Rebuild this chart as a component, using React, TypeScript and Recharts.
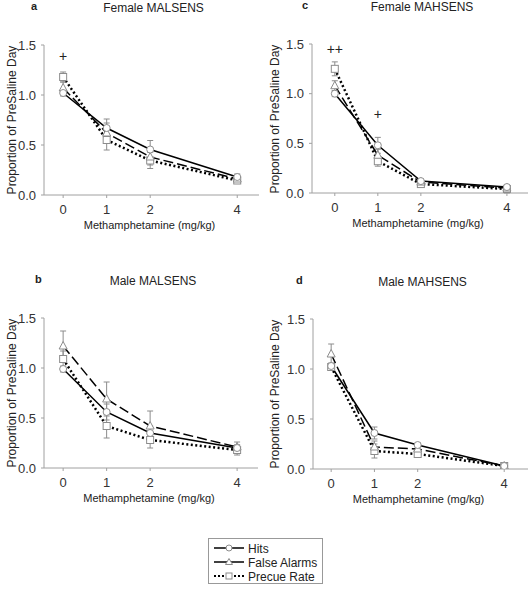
import React from 'react';
import { LineChart, Line, XAxis, YAxis, ErrorBar, ReferenceDot } from 'recharts';

const doses = [0, 1, 2, 4];
const yTicks = [0, 0.5, 1.0, 1.5];

// Panel a: Female MALSENS
const aHits = [1.02, 0.67, 0.455, 0.18];
const aHitsErr = [0.03, 0.09, 0.09, 0.03];
const aFA = [1.07, 0.62, 0.38, 0.16];
const aFAErr = [0.06, 0.1, 0.08, 0.03];
const aPR = [1.18, 0.55, 0.345, 0.145];
const aPRErr = [0.05, 0.1, 0.08, 0.03];
const aSig = [{ x: 0, y: 1.39, text: '+' }];

// Panel c: Female MAHSENS
const cHits = [1.0, 0.48, 0.12, 0.06];
const cHitsErr = [0.03, 0.08, 0.02, 0.02];
const cFA = [1.08, 0.38, 0.11, 0.05];
const cFAErr = [0.05, 0.06, 0.02, 0.02];
const cPR = [1.25, 0.32, 0.09, 0.04];
const cPRErr = [0.07, 0.05, 0.02, 0.04];
const cSig = [{ x: 0, y: 1.45, text: '++' }, { x: 1, y: 0.8, text: '+' }];

// Panel b: Male MALSENS
const bHits = [0.99, 0.56, 0.35, 0.2];
const bHitsErr = [0.03, 0.08, 0.07, 0.03];
const bFA = [1.22, 0.69, 0.42, 0.21];
const bFAErr = [0.15, 0.17, 0.15, 0.05];
const bPR = [1.09, 0.42, 0.28, 0.18];
const bPRErr = [0.08, 0.12, 0.08, 0.05];
const bSig: { x: number; y: number; text: string }[] = [];

// Panel d: Male MAHSENS
const dHits = [1.03, 0.36, 0.24, 0.03];
const dHitsErr = [0.03, 0.06, 0.02, 0.01];
const dFA = [1.15, 0.22, 0.2, 0.03];
const dFAErr = [0.1, 0.06, 0.03, 0.01];
const dPR = [1.02, 0.18, 0.15, 0.03];
const dPRErr = [0.03, 0.07, 0.03, 0.01];
const dSig: { x: number; y: number; text: string }[] = [];

const build = (h: number[], he: number[], f: number[], fe: number[], p: number[], pe: number[]) =>
  doses.map((x, i) => ({ x, hits: h[i], hitsErr: he[i], fa: f[i], faErr: fe[i], pr: p[i], prErr: pe[i] }));

const FONT = '"Liberation Sans", Arial, sans-serif';
const MARK = '#8c8c8c';
const AXIS = '#a0a0a0';

const CircleDot = (props: any) => {
  const { cx, cy, index } = props;
  if (cx == null || cy == null) return <g key={`c${index}`} />;
  return <circle key={`c${index}`} cx={cx} cy={cy} r={3.5} fill="#fff" stroke={MARK} strokeWidth={1} />;
};
const TriDot = (props: any) => {
  const { cx, cy, index } = props;
  if (cx == null || cy == null) return <g key={`t${index}`} />;
  return (
    <path key={`t${index}`} d={`M${cx},${cy - 4.5}L${cx - 4},${cy + 3}L${cx + 4},${cy + 3}Z`} fill="#fff" stroke={MARK} strokeWidth={1} />
  );
};
const SqDot = (props: any) => {
  const { cx, cy, index } = props;
  if (cx == null || cy == null) return <g key={`s${index}`} />;
  return <rect key={`s${index}`} x={cx - 3.5} y={cy - 3.5} width={7} height={7} fill="#fff" stroke={MARK} strokeWidth={1} />;
};

type Panel = {
  letter: string;
  title: string;
  data: ReturnType<typeof build>;
  sig: { x: number; y: number; text: string }[];
  L: number; T: number; B: number; R: number;
  xMin: number; xMax: number;
  letterX: number; ylabX: number;
};

const panels: Panel[] = [
  { letter: 'a', title: 'Female MALSENS', data: build(aHits, aHitsErr, aFA, aFAErr, aPR, aPRErr), sig: aSig, L: 44, T: 45, B: 195, R: 259, xMin: -0.44, xMax: 4.5, letterX: 31, ylabX: 12 },
  { letter: 'c', title: 'Female MAHSENS', data: build(cHits, cHitsErr, cFA, cFAErr, cPR, cPRErr), sig: cSig, L: 312, T: 44, B: 193, R: 528, xMin: -0.53, xMax: 4.49, letterX: 302, ylabX: 275 },
  { letter: 'b', title: 'Male MALSENS', data: build(bHits, bHitsErr, bFA, bFAErr, bPR, bPRErr), sig: bSig, L: 44, T: 318, B: 468, R: 258, xMin: -0.44, xMax: 4.48, letterX: 35, ylabX: 12 },
  { letter: 'd', title: 'Male MAHSENS', data: build(dHits, dHitsErr, dFA, dFAErr, dPR, dPRErr), sig: dSig, L: 313, T: 319, B: 469, R: 528, xMin: -0.42, xMax: 4.55, letterX: 296, ylabX: 275 },
];

const YW = 40;
const XH = 24;

const SigLabel = (text: string) => (props: any) => {
  const vb = props.viewBox || {};
  const x = (vb.x ?? 0) + (vb.width ?? 0) / 2;
  const y = (vb.y ?? 0) + (vb.height ?? 0) / 2;
  return (
    <text x={x} y={y} textAnchor="middle" dominantBaseline="central" fill="#222" fontSize={14} fontFamily={FONT}>
      {text}
    </text>
  );
};

const PanelChart = ({ p }: { p: Panel }) => {
  const cx = p.L - YW;
  const cy = p.T - 10;
  const cw = p.R - cx + 1;
  const ch = p.B - cy + XH + 2;
  const midX = (p.L + p.R) / 2;
  const midY = (p.T + p.B) / 2;
  return (
    <>
      <div style={{ position: 'absolute', left: cx, top: cy, width: cw, height: ch }}>
        <LineChart
          width={cw}
          height={ch}
          data={p.data}
          margin={{ top: 10, right: 1, left: 0, bottom: 2 }}
        >
          <XAxis
            dataKey="x"
            type="number"
            domain={[p.xMin, p.xMax]}
            ticks={doses}
            allowDataOverflow
            height={XH}
            axisLine={{ stroke: AXIS }}
            tickLine={{ stroke: AXIS }}
            tickSize={3}
            tickMargin={7}
            tick={{ fill: '#333', fontSize: 13, fontFamily: FONT }}
          />
          <YAxis
            type="number"
            domain={[0, 1.5]}
            ticks={yTicks}
            width={YW}
            allowDataOverflow
            axisLine={{ stroke: AXIS }}
            tickLine={{ stroke: AXIS }}
            tickSize={3}
            tickMargin={5}
            tickFormatter={(v: number) => v.toFixed(1)}
            tick={{ fill: '#333', fontSize: 13, fontFamily: FONT }}
          />
          <Line dataKey="pr" stroke="#000" strokeWidth={2.5} strokeDasharray="2 2.5" dot={SqDot} isAnimationActive={false}>
            <ErrorBar dataKey="prErr" width={3} stroke={MARK} strokeWidth={1} direction="y" />
          </Line>
          <Line dataKey="fa" stroke="#000" strokeWidth={1.5} strokeDasharray="10 4" dot={TriDot} isAnimationActive={false}>
            <ErrorBar dataKey="faErr" width={3} stroke={MARK} strokeWidth={1} direction="y" />
          </Line>
          <Line dataKey="hits" stroke="#000" strokeWidth={1.5} dot={CircleDot} isAnimationActive={false}>
            <ErrorBar dataKey="hitsErr" width={3} stroke={MARK} strokeWidth={1} direction="y" />
          </Line>
          {p.sig.map((s, i) => (
            <ReferenceDot
              key={i}
              x={s.x}
              y={s.y}
              r={1}
              fill="none"
              stroke="none"
              label={SigLabel(s.text)}
            />
          ))}
        </LineChart>
      </div>
      <div style={{ position: 'absolute', left: p.letterX, top: p.T - 45, fontFamily: FONT, fontSize: 11, fontWeight: 'bold', color: '#222' }}>
        {p.letter}
      </div>
      <div style={{ position: 'absolute', left: midX + 2, top: p.T - 44, transform: 'translateX(-50%)', whiteSpace: 'nowrap', fontFamily: FONT, fontSize: 12, color: '#222' }}>
        {p.title}
      </div>
      <div style={{ position: 'absolute', left: midX - 2, top: p.B + 24, transform: 'translateX(-50%)', whiteSpace: 'nowrap', fontFamily: FONT, fontSize: 11, color: '#222' }}>
        Methamphetamine (mg/kg)
      </div>
      <div style={{ position: 'absolute', left: p.ylabX, top: midY, transform: 'translate(-50%, -50%) rotate(-90deg)', whiteSpace: 'nowrap', fontFamily: FONT, fontSize: 12, color: '#222' }}>
        Proportion of PreSaline Day
      </div>
    </>
  );
};

const legendItems = [
  { label: 'Hits', dash: undefined as string | undefined, w: 1.5, shape: 'circle' },
  { label: 'False Alarms', dash: undefined as string | undefined, w: 1.5, shape: 'tri' },
  { label: 'Precue Rate', dash: '2 2' as string | undefined, w: 2, shape: 'sq' },
];

const Legend = () => (
  <div style={{ position: 'absolute', left: 208, top: 538, width: 113, height: 44, border: '1px solid #999', background: '#fff' }}>
    <svg width={113} height={44} style={{ display: 'block' }}>
      {legendItems.map((it, i) => {
        const y = 9 + i * 14;
        return (
          <g key={it.label}>
            <line x1={5} x2={35} y1={y} y2={y} stroke="#000" strokeWidth={it.w} strokeDasharray={it.dash} />
            {it.shape === 'circle' && <circle cx={20} cy={y} r={3} fill="#fff" stroke={MARK} />}
            {it.shape === 'tri' && <path d={`M20,${y - 3.5}L16.5,${y + 2.5}L23.5,${y + 2.5}Z`} fill="#fff" stroke={MARK} />}
            {it.shape === 'sq' && <rect x={17} y={y - 3} width={6} height={6} fill="#fff" stroke={MARK} />}
            <text x={39} y={y + 4.5} fontFamily={FONT} fontSize={12} fill="#222">{it.label}</text>
          </g>
        );
      })}
    </svg>
  </div>
);

export default function App() {
  return (
    <div style={{ position: 'absolute', left: 0, top: 0, width: 529, height: 600, background: '#fff', overflow: 'hidden' }}>
      {panels.map((p) => (
        <PanelChart key={p.letter} p={p} />
      ))}
      <Legend />
    </div>
  );
}
